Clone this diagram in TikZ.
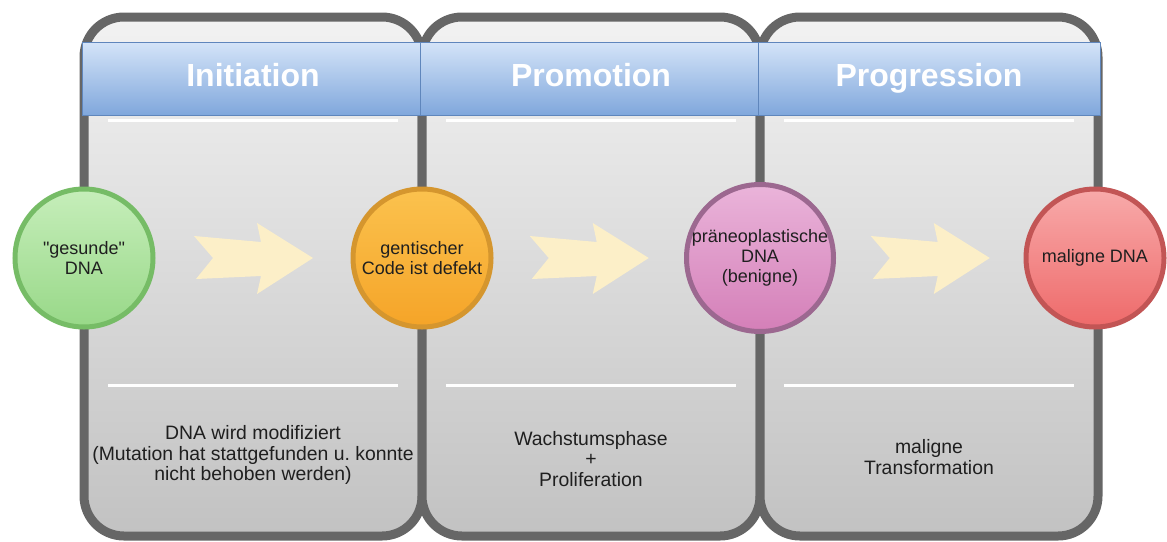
\documentclass[tikz,border=0pt]{standalone}
\usepackage{fontspec}
\setmainfont{Liberation Sans}
\usepackage{xcolor}
\usepackage{tikz}
\usetikzlibrary{positioning}

\definecolor{panelgray}{HTML}{666666}
\definecolor{headtop}{HTML}{D4E4F8}
\definecolor{headbot}{HTML}{80A7DC}
\definecolor{headline}{HTML}{5F86BC}
\definecolor{arrowfill}{HTML}{FCEFC8}
\definecolor{greentop}{HTML}{C6EEBA}
\definecolor{greenbot}{HTML}{98D888}
\definecolor{greenline}{HTML}{76BC66}
\definecolor{orangetop}{HTML}{FBC24E}
\definecolor{orangebot}{HTML}{F5A428}
\definecolor{orangeline}{HTML}{D5962E}
\definecolor{pinktop}{HTML}{EAB4DA}
\definecolor{pinkbot}{HTML}{D47FB8}
\definecolor{pinkline}{HTML}{9C6890}
\definecolor{redtop}{HTML}{F8AAAA}
\definecolor{redbot}{HTML}{EE6A6A}
\definecolor{redline}{HTML}{C25555}

\tikzset{
  panel/.style={draw=panelgray, line width=4.5pt, rounded corners=20pt,
    top color=black!5, bottom color=black!24,
    minimum width=169pt, minimum height=259.5pt, outer sep=0pt},
  header/.style={draw=headline, line width=0.5pt, top color=headtop, bottom color=headbot,
    minimum width=171pt, minimum height=36.5pt, outer sep=0pt, text=white,
    text height=11.5pt, text depth=3.4pt,
    font=\fontsize{16}{18}\selectfont\bfseries},
  sepline/.style={white, line width=1.5pt},
  stage/.style={circle, line width=2.5pt, minimum size=69pt, inner sep=0pt,
    align=center, text=black!88, font=\fontsize{9}{10}\selectfont},
  note/.style={align=center, text=black!88, font=\fontsize{9.7}{10.4}\selectfont},
  stagearrow/.pic={
    \fill[arrowfill] (-59,-22) -- (8,-16) -- (4,-35) -- (60,0) -- (4,36)
      -- (8,18) -- (-57,21) -- (-40,0) -- cycle;
  },
}

\begin{document}
\frenchspacing
\begin{tikzpicture}[x=0.5pt, y=-0.5pt]
  \useasboundingbox (0,0) rectangle (1167,541);
  % phases
  \foreach \i/\name in {0/pInit, 1/pProm, 2/pProg}
    \node [panel] (\name) at ({253+338*\i},276.5) {};
  \foreach \name/\title in {pInit/Initiation, pProm/Promotion, pProg/Progression} {
    \node [header, below=12.5pt of \name.north] (h\name) {\title};
    \draw [sepline] ([shift={(12pt,-51.5pt)}]\name.north west) -- ([shift={(-12pt,-51.5pt)}]\name.north east);
    \draw [sepline] ([shift={(12pt,75.5pt)}]\name.south west) -- ([shift={(-12pt,75.5pt)}]\name.south east);
  }
  %
  \node [note] (tInit) at (253,455) {DNA wird modifiziert\\(Mutation hat stattgefunden u.\ konnte\\nicht behoben werden)};
  \node [note] (tProm) at (591,459) {Wachstumsphase\\+\\Proliferation};
  \node [note] (tProg) at (929,457) {maligne\\Transformation};
  %
  \node [stage, draw=greenline, top color=greentop, bottom color=greenbot] (dnaA) at (84,258) {\textquotedbl gesunde\textquotedbl\\DNA};
  \node [stage, draw=orangeline, top color=orangetop, bottom color=orangebot] (dnaB) at (422,258) {gentischer\\Code ist defekt};
  \node [stage, draw=pinkline, top color=pinktop, bottom color=pinkbot] (dnaC) at (760,258) {präneoplastische\\DNA\\(benigne)};
  \node [stage, draw=redline, top color=redtop, bottom color=redbot] (dnaD) at (1095,258) {maligne DNA};
  %
  \path (dnaA) -- (dnaB) coordinate [midway] (m1);
  \path (dnaB) -- (dnaC) coordinate [midway] (m2);
  \path (dnaC) -- (dnaD) coordinate [midway] (m3);
  \foreach \m in {m1, m2, m3}
    \pic at (\m) {stagearrow};
\end{tikzpicture}
\end{document}
